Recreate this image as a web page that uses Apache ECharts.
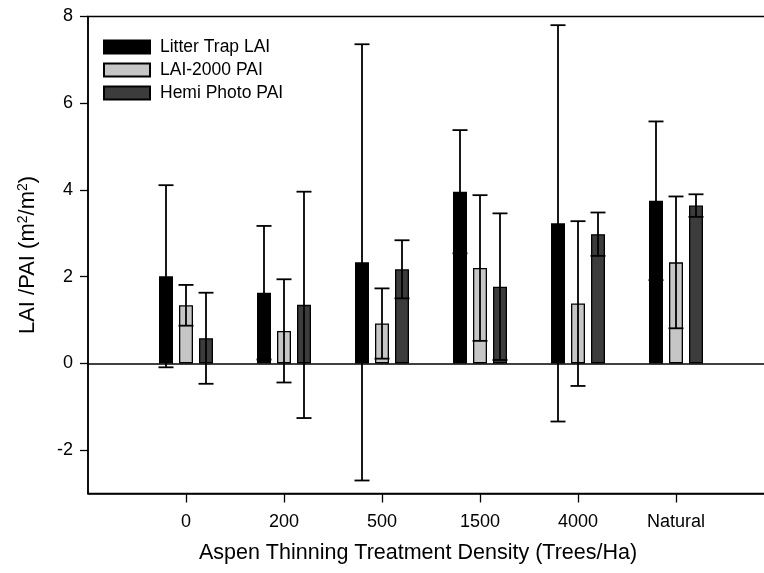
<!DOCTYPE html>
<html>
<head>
<meta charset="utf-8">
<script src="https://cdn.jsdelivr.net/npm/echarts@6/dist/echarts.min.js"></script>
<style>
html,body{margin:0;padding:0;background:#fff;overflow:hidden;}
#chart{width:764px;height:573px;}
</style>
</head>
<body>
<div id="chart"></div>
<script>
// ---- data ----
const categories = ['0', '200', '500', '1500', '4000', 'Natural'];
const seriesNames = ['Litter Trap LAI', 'LAI-2000 PAI', 'Hemi Photo PAI'];
const litterMean = [2.01, 1.63, 2.33, 3.96, 3.23, 3.75];
const litterErr  = [2.10, 1.54, 5.03, 1.42, 4.57, 1.83];
const lai2000Mean = [1.34, 0.75, 0.92, 2.20, 1.38, 2.33];
const lai2000Err  = [0.47, 1.19, 0.81, 1.68, 1.90, 1.52];
const hemiMean = [0.58, 1.35, 2.17, 1.77, 2.98, 3.64];
const hemiErr  = [1.05, 2.61, 0.67, 1.69, 0.50, 0.26];
const yTicks = [-2, 0, 2, 4, 6, 8];

// ---- build ----
const means = [litterMean, lai2000Mean, hemiMean];
const errs = [litterErr, lai2000Err, hemiErr];
const colors = ['#000000', '#c6c6c6', '#3c3c3c'];
const BAR_W = 14, BAR_GAP = 6;
const axisCats = [''].concat(categories, ['']);
const font = 'Liberation Sans, Arial, sans-serif';

const series = [];
means.forEach((m, s) => {
  series.push({
    name: seriesNames[s],
    type: 'bar',
    barWidth: BAR_W,
    barGap: (BAR_GAP / BAR_W * 100).toFixed(2) + '%',
    data: [null].concat(m, [null]),
    itemStyle: { color: colors[s], borderColor: '#000', borderWidth: 1.3 },
    z: 2,
    markLine: s === 0 ? {
      silent: true, symbol: 'none', label: { show: false },
      lineStyle: { color: '#000', width: 1.5, type: 'solid' },
      data: [{ yAxis: 0 }]
    } : undefined
  });
});
means.forEach((m, s) => {
  const offset = (s - 1) * (BAR_W + BAR_GAP);
  series.push({
    type: 'custom',
    silent: true,
    z: 5,
    data: m.map((v, i) => [i + 1, v, errs[s][i]]),
    renderItem: function (params, api) {
      const x = api.value(0), mv = api.value(1), e = api.value(2);
      const top = api.coord([x, mv + e]);
      const bot = api.coord([x, mv - e]);
      const cx = top[0] + offset;
      const hw = 7.5;
      const style = { stroke: '#000', lineWidth: 1.8 };
      return {
        type: 'group',
        children: [
          { type: 'line', shape: { x1: cx, y1: top[1], x2: cx, y2: bot[1] }, style: style },
          { type: 'line', shape: { x1: cx - hw, y1: top[1], x2: cx + hw, y2: top[1] }, style: style },
          { type: 'line', shape: { x1: cx - hw, y1: bot[1], x2: cx + hw, y2: bot[1] }, style: style }
        ]
      };
    }
  });
});

const option = {
  animation: false,
  backgroundColor: '#fff',
  textStyle: { fontFamily: font, color: '#000' },
  grid: {
    left: 88, top: 16.5, right: -10, bottom: 79.5,
    outerBoundsMode: 'none',
    containLabel: false,
    show: true, borderColor: '#000', borderWidth: 1.5, backgroundColor: 'transparent'
  },
  legend: {
    data: seriesNames,
    orient: 'vertical',
    left: 98, top: 33,
    itemWidth: 46, itemHeight: 13, itemGap: 5,
    icon: 'rect',
    textStyle: { fontFamily: font, fontSize: 17.5, color: '#000', lineHeight: 17, padding: [0, 0, 0, 5] }
  },
  xAxis: {
    type: 'category',
    data: axisCats,
    boundaryGap: false,
    axisLine: { show: true, onZero: false, lineStyle: { color: '#000', width: 1.5 } },
    axisTick: {
      show: true, inside: false, length: 9,
      interval: function (idx) { return idx >= 1 && idx <= categories.length; },
      lineStyle: { color: '#000', width: 1.3 }
    },
    axisLabel: {
      interval: 0, margin: 20, fontSize: 18, color: '#000', fontFamily: font
    },
    splitLine: { show: false },
    name: 'Aspen Thinning Treatment Density (Trees/Ha)',
    nameLocation: 'middle',
    nameGap: 49,
    nameTextStyle: { fontSize: 21.5, color: '#000', fontFamily: font, padding: [0, 26, 0, 0] }
  },
  yAxis: {
    type: 'value',
    min: -3, max: 8, interval: 1,
    axisLine: { show: true, onZero: false, lineStyle: { color: '#000', width: 1.5 } },
    axisTick: { show: true, inside: false, length: 8, customValues: yTicks, lineStyle: { color: '#000', width: 1.3 } },
    axisLabel: { customValues: yTicks, margin: 15, fontSize: 18, color: '#000', fontFamily: font },
    splitLine: { show: false },
    name: 'LAI /PAI (m{sup|2}/m{sup|2})',
    nameLocation: 'middle',
    nameGap: 48,
    nameRotate: 90,
    nameTextStyle: {
      fontSize: 22, color: '#000', fontFamily: font, lineHeight: 24,
      rich: { sup: { fontSize: 14, verticalAlign: 'top', lineHeight: 24, fontFamily: font, color: '#000' } }
    }
  },
  series: series
};

const chart = echarts.init(document.getElementById('chart'), null, { renderer: 'canvas' });
chart.setOption(option);
</script>
</body>
</html>
